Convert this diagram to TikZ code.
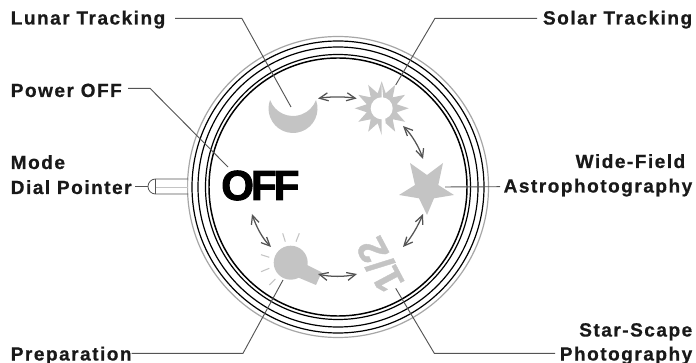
\documentclass[tikz,border=0pt]{standalone}
\usepackage{fontspec}
\setmainfont{Liberation Sans}
\newfontfamily\labfont[FakeBold=0.6,LetterSpace=7.8]{Liberation Sans Bold}
\newfontfamily\halffont[FakeBold=1]{Liberation Sans Bold}
\newfontfamily\offfont[FakeBold=2.2,LetterSpace=-7]{Liberation Sans Bold}
\usetikzlibrary{arrows.meta,calc}
\definecolor{iconG}{gray}{0.77}
\definecolor{leadG}{gray}{0.33}
\tikzset{
  px/.style={x=0.75pt,y=-0.75pt},
  lab/.style={inner sep=0pt,font=\labfont\fontsize{14.3}{16}\selectfont,text=black!90},
  leader/.style={draw=leadG,line width=0.7pt},
  ring/.style={draw=black,line width=0.9pt},
  cycarrow/.style={draw=leadG,line width=0.95pt,{Straight Barb[length=6.5pt,width=6pt]}-{Straight Barb[length=6.5pt,width=6pt]}},
  icon/.style={fill=iconG,draw=none},
  bulbray/.style={draw=iconG,line width=0.8pt}
}
\begin{document}
\begin{tikzpicture}[px]
\useasboundingbox (0,0) rectangle (696,363);
% dial
\coordinate (c) at (338,187);
\draw[draw=gray!70,line width=0.9pt] (c) circle (150.5);
\draw[ring] (c) circle (146);
\draw[ring] (c) circle (140);
\draw[ring] (c) circle (132.5);
\draw[ring,line width=1.1pt] (c) circle (129);
% pointer
\fill[white] (187,179) -- (155.5,179) arc (-90:-270:7.5) -- (187,194) -- cycle;
\draw[draw=leadG,line width=0.6pt] (188,179) -- (155.5,179) arc (-90:-270:7.5) -- (188,194);
\draw[draw=leadG,line width=0.5pt] (155.5,179) -- (155.5,194);
\draw[draw=iconG,line width=0.6pt] (155.5,187) -- (188,187);
% icons
\path[icon] (316,100) arc (-20.3:200.3:24.5) arc (159.7:20.3:24.5) -- cycle;
\coordinate (moon) at (291,107);
\path[icon] (381.7,81.3)
  \foreach \a in {0,30,...,330} { -- ($(381.7,108.3)+(\a+90:27)$) -- ($(381.7,108.3)+(\a+105:15.5)$) } -- cycle;
\fill[white] (381.7,108.3) circle (11);
\coordinate (sun) at (395.7,85);
\path[icon] (427,215) -- (434,198.3) -- (454,195) -- (438.3,185) -- (443,163) -- (427,175) -- (410,163) -- (415,185) -- (399,195) -- (419,198.3) -- cycle;
\coordinate (star) at (445,187);
\path[icon] (290.7,262.7) circle (17);
\path[icon] (305,264) -- (321.7,272.3) -- (316,285) -- (297,277) -- cycle;
\draw[bulbray] (282.7,233.3) -- (285.3,241.7);
\draw[bulbray] (299.3,233.3) -- (296,241.7);
\draw[bulbray] (261,254.7) -- (269.3,257.3);
\draw[bulbray] (261,271.7) -- (269.3,268.3);
\draw[bulbray] (269.3,285) -- (275.3,279);
\coordinate (bulb) at (283,280);
\node[rotate=118,inner sep=0pt,text=iconG,font=\halffont\fontsize{30}{30}\selectfont] (half) at (380,265) {1/2};
\coordinate (halfpt) at (395.7,288.3);
\node[inner sep=0pt,anchor=base west,font=\offfont\fontsize{31.5}{31.5}\selectfont] (off) at (221,200) {OFF};
\coordinate (offpt) at (228,167);
% cycle arrows
\draw[cycarrow] (318,98.5) .. controls (330,96.5) and (345,96.5) .. (356.7,98.5);
\draw[cycarrow] (403,126) .. controls (412,135) and (419,147) .. (423,159);
\draw[cycarrow] (423,214) .. controls (418,226) and (411,238) .. (403,247);
\draw[cycarrow] (357,274) .. controls (345,277) and (330,277) .. (318,274);
\draw[cycarrow] (271,247) .. controls (262,238) and (256,226) .. (252,214);
% labels
\node[lab,anchor=base west] (lunar) at (10.5,24.5) {Lunar Tracking};
\node[lab,anchor=base east] (solar) at (692.5,24.5) {Solar Tracking};
\node[lab,anchor=base west] (power) at (10.5,97) {Power OFF};
\node[lab,anchor=base west] (mode) at (10.5,169) {Mode};
\node[lab,anchor=base west] (dial) at (10.5,194) {Dial Pointer};
\node[lab,anchor=base east] (wide) at (685.5,168) {Wide-Field};
\node[lab,anchor=base east] (astro) at (692.5,192.5) {Astrophotography};
\node[lab,anchor=base west] (prep) at (10.5,360.5) {Preparation};
\node[lab,anchor=base east] (scape) at (692.5,336.5) {Star-Scape};
\node[lab,anchor=base east] (photo) at (692.5,360.5) {Photography};
% leaders
\coordinate (lu1) at (175,18.3);
\coordinate (so1) at (537,18.3);
\coordinate (po1) at (128,88.3);
\coordinate (di1) at (135,186.7);
\coordinate (as1) at (500,186.7);
\coordinate (pr1) at (131.7,353.3);
\coordinate (ph1) at (555,353.3);
\draw[leader] (lu1) -- (241.8,18.3) -- (moon);
\draw[leader] (so1) -- (435,18.3) -- (sun);
\draw[leader] (po1) -- (150,88.3) -- (offpt);
\draw[leader] (di1) -- (148,186.7);
\draw[leader] (as1) -- (star);
\draw[leader] (pr1) -- (243,353.3) -- (bulb);
\draw[leader] (ph1) -- (434.3,353.3) -- (halfpt);
\end{tikzpicture}
\end{document}
